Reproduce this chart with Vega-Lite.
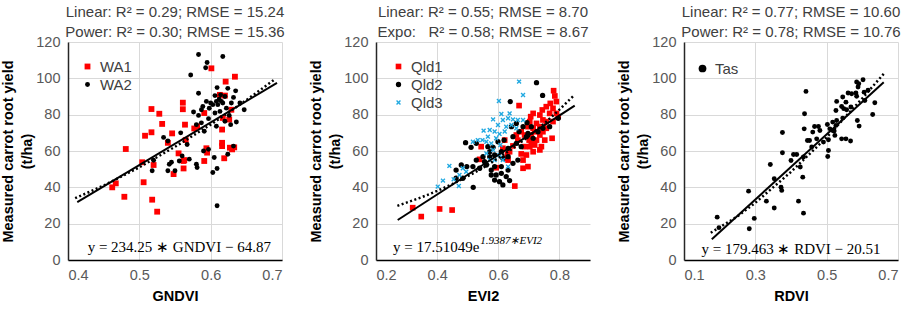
{
  "$schema": "https://vega.github.io/schema/vega-lite/v6.json",
  "background": "white",
  "padding": {"left": 0, "top": 5, "right": 5, "bottom": 5},
  "bounds": "flush",
  "spacing": 94,
  "datasets": {
    "p1": [
      {"x":0.601,"y":105.5,"s":"WA1"},{"x":0.621,"y":98.2,"s":"WA1"},{"x":0.634,"y":100.9,"s":"WA1"},{"x":0.613,"y":90.9,"s":"WA1"},{"x":0.620,"y":90.5,"s":"WA1"},
      {"x":0.561,"y":86.6,"s":"WA1"},{"x":0.561,"y":83.0,"s":"WA1"},{"x":0.517,"y":83.1,"s":"WA1"},{"x":0.528,"y":80.5,"s":"WA1"},{"x":0.532,"y":74.9,"s":"WA1"},
      {"x":0.591,"y":80.9,"s":"WA1"},{"x":0.564,"y":74.5,"s":"WA1"},{"x":0.581,"y":73.6,"s":"WA1"},{"x":0.577,"y":72.4,"s":"WA1"},{"x":0.508,"y":68.4,"s":"WA1"},
      {"x":0.517,"y":70.3,"s":"WA1"},{"x":0.546,"y":69.7,"s":"WA1"},{"x":0.540,"y":64.5,"s":"WA1"},{"x":0.565,"y":66.0,"s":"WA1"},{"x":0.629,"y":82.7,"s":"WA1"},
      {"x":0.626,"y":77.3,"s":"WA1"},{"x":0.617,"y":78.2,"s":"WA1"},{"x":0.616,"y":71.8,"s":"WA1"},{"x":0.616,"y":64.5,"s":"WA1"},{"x":0.616,"y":62.7,"s":"WA1"},
      {"x":0.627,"y":61.8,"s":"WA1"},{"x":0.630,"y":60.9,"s":"WA1"},{"x":0.619,"y":56.0,"s":"WA1"},{"x":0.594,"y":61.5,"s":"WA1"},{"x":0.595,"y":59.1,"s":"WA1"},
      {"x":0.591,"y":54.5,"s":"WA1"},{"x":0.562,"y":54.5,"s":"WA1"},{"x":0.562,"y":50.4,"s":"WA1"},{"x":0.555,"y":58.7,"s":"WA1"},{"x":0.548,"y":47.3,"s":"WA1"},
      {"x":0.504,"y":53.8,"s":"WA1"},{"x":0.520,"y":52.3,"s":"WA1"},{"x":0.506,"y":42.8,"s":"WA1"},{"x":0.518,"y":33.2,"s":"WA1"},{"x":0.481,"y":61.1,"s":"WA1"},
      {"x":0.462,"y":40.0,"s":"WA1"},{"x":0.467,"y":42.2,"s":"WA1"},{"x":0.479,"y":34.8,"s":"WA1"},{"x":0.525,"y":26.6,"s":"WA1"},{"x":0.633,"y":62.0,"s":"WA1"},
      {"x":0.563,"y":55.0,"s":"WA1"},
      {"x":0.583,"y":113.1,"s":"WA2"},{"x":0.617,"y":112.0,"s":"WA2"},{"x":0.595,"y":108.7,"s":"WA2"},{"x":0.593,"y":105.8,"s":"WA2"},{"x":0.572,"y":101.8,"s":"WA2"},
      {"x":0.609,"y":94.9,"s":"WA2"},{"x":0.624,"y":94.5,"s":"WA2"},{"x":0.635,"y":93.1,"s":"WA2"},{"x":0.583,"y":91.8,"s":"WA2"},{"x":0.606,"y":90.5,"s":"WA2"},
      {"x":0.614,"y":90.9,"s":"WA2"},{"x":0.620,"y":90.0,"s":"WA2"},{"x":0.600,"y":86.4,"s":"WA2"},{"x":0.608,"y":87.3,"s":"WA2"},{"x":0.615,"y":87.3,"s":"WA2"},
      {"x":0.594,"y":87.3,"s":"WA2"},{"x":0.603,"y":85.5,"s":"WA2"},{"x":0.610,"y":85.5,"s":"WA2"},{"x":0.617,"y":86.4,"s":"WA2"},{"x":0.629,"y":86.4,"s":"WA2"},
      {"x":0.641,"y":86.4,"s":"WA2"},{"x":0.589,"y":84.5,"s":"WA2"},{"x":0.587,"y":82.7,"s":"WA2"},{"x":0.622,"y":83.6,"s":"WA2"},{"x":0.647,"y":82.7,"s":"WA2"},
      {"x":0.576,"y":81.5,"s":"WA2"},{"x":0.583,"y":79.6,"s":"WA2"},{"x":0.606,"y":80.9,"s":"WA2"},{"x":0.613,"y":81.8,"s":"WA2"},{"x":0.626,"y":79.6,"s":"WA2"},
      {"x":0.597,"y":77.8,"s":"WA2"},{"x":0.587,"y":75.5,"s":"WA2"},{"x":0.620,"y":76.4,"s":"WA2"},{"x":0.628,"y":74.5,"s":"WA2"},{"x":0.608,"y":73.6,"s":"WA2"},
      {"x":0.580,"y":74.5,"s":"WA2"},{"x":0.591,"y":70.9,"s":"WA2"},{"x":0.558,"y":70.0,"s":"WA2"},{"x":0.540,"y":65.5,"s":"WA2"},{"x":0.534,"y":67.5,"s":"WA2"},
      {"x":0.567,"y":63.6,"s":"WA2"},{"x":0.590,"y":60.0,"s":"WA2"},{"x":0.597,"y":60.9,"s":"WA2"},{"x":0.605,"y":56.4,"s":"WA2"},{"x":0.632,"y":62.7,"s":"WA2"},
      {"x":0.624,"y":58.2,"s":"WA2"},{"x":0.560,"y":57.3,"s":"WA2"},{"x":0.570,"y":55.5,"s":"WA2"},{"x":0.556,"y":54.5,"s":"WA2"},{"x":0.520,"y":54.9,"s":"WA2"},
      {"x":0.580,"y":52.7,"s":"WA2"},{"x":0.542,"y":52.7,"s":"WA2"},{"x":0.581,"y":50.9,"s":"WA2"},{"x":0.518,"y":49.1,"s":"WA2"},{"x":0.540,"y":49.1,"s":"WA2"},
      {"x":0.550,"y":49.1,"s":"WA2"},{"x":0.603,"y":48.2,"s":"WA2"},{"x":0.609,"y":50.4,"s":"WA2"},{"x":0.609,"y":29.9,"s":"WA2"},{"x":0.545,"y":53.8,"s":"WA2"},
      {"x":0.612,"y":88.5,"s":"WA2"},{"x":0.598,"y":83.5,"s":"WA2"},{"x":0.632,"y":89.5,"s":"WA2"},{"x":0.636,"y":76.0,"s":"WA2"}
    ],
    "p2": [
      {"x":0.320,"y":28.8,"s":"Qld1"},{"x":0.348,"y":23.9,"s":"Qld1"},{"x":0.408,"y":28.1,"s":"Qld1"},{"x":0.449,"y":27.5,"s":"Qld1"},{"x":0.654,"y":40.7,"s":"Qld1"},
      {"x":0.668,"y":85.0,"s":"Qld1"},{"x":0.593,"y":50.8,"s":"Qld1"},{"x":0.539,"y":55.4,"s":"Qld1"},{"x":0.544,"y":62.4,"s":"Qld1"},{"x":0.621,"y":66.0,"s":"Qld1"},
      {"x":0.632,"y":55.0,"s":"Qld1"},{"x":0.637,"y":59.6,"s":"Qld1"},{"x":0.681,"y":50.5,"s":"Qld1"},{"x":0.681,"y":55.0,"s":"Qld1"},{"x":0.675,"y":58.4,"s":"Qld1"},
      {"x":0.697,"y":51.4,"s":"Qld1"},{"x":0.686,"y":62.4,"s":"Qld1"},{"x":0.703,"y":62.4,"s":"Qld1"},{"x":0.719,"y":63.3,"s":"Qld1"},{"x":0.736,"y":60.6,"s":"Qld1"},
      {"x":0.714,"y":59.6,"s":"Qld1"},{"x":0.725,"y":66.0,"s":"Qld1"},{"x":0.701,"y":66.0,"s":"Qld1"},{"x":0.708,"y":68.8,"s":"Qld1"},{"x":0.736,"y":68.8,"s":"Qld1"},
      {"x":0.746,"y":70.6,"s":"Qld1"},{"x":0.757,"y":72.5,"s":"Qld1"},{"x":0.714,"y":72.5,"s":"Qld1"},{"x":0.697,"y":73.4,"s":"Qld1"},{"x":0.725,"y":75.2,"s":"Qld1"},
      {"x":0.706,"y":78.9,"s":"Qld1"},{"x":0.714,"y":80.7,"s":"Qld1"},{"x":0.736,"y":79.8,"s":"Qld1"},{"x":0.744,"y":82.6,"s":"Qld1"},{"x":0.757,"y":84.4,"s":"Qld1"},
      {"x":0.770,"y":86.2,"s":"Qld1"},{"x":0.790,"y":87.2,"s":"Qld1"},{"x":0.785,"y":90.3,"s":"Qld1"},{"x":0.781,"y":93.2,"s":"Qld1"},{"x":0.768,"y":80.7,"s":"Qld1"},
      {"x":0.779,"y":83.5,"s":"Qld1"},{"x":0.790,"y":80.7,"s":"Qld1"},{"x":0.779,"y":76.2,"s":"Qld1"},{"x":0.776,"y":67.0,"s":"Qld1"},{"x":0.752,"y":66.0,"s":"Qld1"},
      {"x":0.796,"y":78.9,"s":"Qld1"},{"x":0.736,"y":73.4,"s":"Qld1"},{"x":0.703,"y":76.2,"s":"Qld1"},{"x":0.719,"y":70.6,"s":"Qld1"},{"x":0.692,"y":57.8,"s":"Qld1"},
      {"x":0.664,"y":66.0,"s":"Qld1"},{"x":0.648,"y":62.8,"s":"Qld1"},{"x":0.659,"y":68.8,"s":"Qld1"},{"x":0.686,"y":68.8,"s":"Qld1"},{"x":0.675,"y":70.6,"s":"Qld1"},
      {"x":0.746,"y":77.1,"s":"Qld1"},{"x":0.757,"y":76.2,"s":"Qld1"},{"x":0.708,"y":64.2,"s":"Qld1"},{"x":0.741,"y":62.4,"s":"Qld1"},{"x":0.626,"y":56.0,"s":"Qld1"},
      {"x":0.615,"y":61.5,"s":"Qld1"},{"x":0.630,"y":58.2,"s":"Qld1"},
      {"x":0.725,"y":97.6,"s":"Qld2"},{"x":0.639,"y":87.2,"s":"Qld2"},{"x":0.745,"y":90.6,"s":"Qld2"},{"x":0.493,"y":64.6,"s":"Qld2"},{"x":0.511,"y":62.0,"s":"Qld2"},
      {"x":0.528,"y":64.2,"s":"Qld2"},{"x":0.566,"y":62.4,"s":"Qld2"},{"x":0.583,"y":62.0,"s":"Qld2"},{"x":0.599,"y":65.1,"s":"Qld2"},{"x":0.619,"y":66.0,"s":"Qld2"},
      {"x":0.648,"y":67.9,"s":"Qld2"},{"x":0.668,"y":70.7,"s":"Qld2"},{"x":0.681,"y":73.4,"s":"Qld2"},{"x":0.694,"y":75.6,"s":"Qld2"},{"x":0.659,"y":64.2,"s":"Qld2"},
      {"x":0.632,"y":61.5,"s":"Qld2"},{"x":0.610,"y":59.6,"s":"Qld2"},{"x":0.588,"y":57.8,"s":"Qld2"},{"x":0.572,"y":59.6,"s":"Qld2"},{"x":0.550,"y":56.9,"s":"Qld2"},
      {"x":0.528,"y":55.0,"s":"Qld2"},{"x":0.517,"y":51.4,"s":"Qld2"},{"x":0.539,"y":50.5,"s":"Qld2"},{"x":0.561,"y":52.3,"s":"Qld2"},{"x":0.577,"y":49.5,"s":"Qld2"},
      {"x":0.593,"y":46.8,"s":"Qld2"},{"x":0.610,"y":47.7,"s":"Qld2"},{"x":0.626,"y":45.9,"s":"Qld2"},{"x":0.588,"y":44.0,"s":"Qld2"},{"x":0.604,"y":43.1,"s":"Qld2"},
      {"x":0.632,"y":49.5,"s":"Qld2"},{"x":0.648,"y":53.2,"s":"Qld2"},{"x":0.518,"y":40.0,"s":"Qld2"},{"x":0.484,"y":45.0,"s":"Qld2"},{"x":0.462,"y":45.0,"s":"Qld2"},
      {"x":0.462,"y":49.5,"s":"Qld2"},{"x":0.497,"y":51.4,"s":"Qld2"},{"x":0.697,"y":69.7,"s":"Qld2"},{"x":0.714,"y":67.0,"s":"Qld2"},{"x":0.730,"y":70.6,"s":"Qld2"},
      {"x":0.746,"y":72.5,"s":"Qld2"},{"x":0.768,"y":73.4,"s":"Qld2"},{"x":0.796,"y":78.0,"s":"Qld2"},{"x":0.643,"y":73.4,"s":"Qld2"},{"x":0.659,"y":75.2,"s":"Qld2"},
      {"x":0.675,"y":62.4,"s":"Qld2"},{"x":0.692,"y":67.9,"s":"Qld2"},{"x":0.708,"y":73.4,"s":"Qld2"},{"x":0.615,"y":56.0,"s":"Qld2"},{"x":0.632,"y":56.9,"s":"Qld2"},
      {"x":0.572,"y":56.9,"s":"Qld2"},{"x":0.555,"y":54.1,"s":"Qld2"},{"x":0.588,"y":51.4,"s":"Qld2"},{"x":0.610,"y":51.4,"s":"Qld2"},{"x":0.637,"y":43.7,"s":"Qld2"},
      {"x":0.615,"y":41.3,"s":"Qld2"},{"x":0.664,"y":55.0,"s":"Qld2"},{"x":0.577,"y":46.8,"s":"Qld2"},{"x":0.479,"y":52.3,"s":"Qld2"},
      {"x":0.668,"y":98.2,"s":"Qld3"},{"x":0.681,"y":90.8,"s":"Qld3"},{"x":0.602,"y":87.5,"s":"Qld3"},{"x":0.610,"y":80.4,"s":"Qld3"},{"x":0.583,"y":77.4,"s":"Qld3"},
      {"x":0.552,"y":71.2,"s":"Qld3"},{"x":0.572,"y":71.6,"s":"Qld3"},{"x":0.588,"y":70.7,"s":"Qld3"},{"x":0.599,"y":74.3,"s":"Qld3"},{"x":0.615,"y":77.1,"s":"Qld3"},
      {"x":0.632,"y":78.0,"s":"Qld3"},{"x":0.648,"y":77.4,"s":"Qld3"},{"x":0.664,"y":77.1,"s":"Qld3"},{"x":0.643,"y":74.3,"s":"Qld3"},{"x":0.626,"y":73.4,"s":"Qld3"},
      {"x":0.659,"y":72.5,"s":"Qld3"},{"x":0.621,"y":70.7,"s":"Qld3"},{"x":0.604,"y":69.4,"s":"Qld3"},{"x":0.517,"y":65.1,"s":"Qld3"},{"x":0.533,"y":66.0,"s":"Qld3"},
      {"x":0.548,"y":66.0,"s":"Qld3"},{"x":0.561,"y":65.1,"s":"Qld3"},{"x":0.577,"y":64.2,"s":"Qld3"},{"x":0.593,"y":67.0,"s":"Qld3"},{"x":0.607,"y":63.3,"s":"Qld3"},
      {"x":0.583,"y":60.6,"s":"Qld3"},{"x":0.561,"y":58.7,"s":"Qld3"},{"x":0.588,"y":55.0,"s":"Qld3"},{"x":0.604,"y":57.8,"s":"Qld3"},{"x":0.615,"y":55.0,"s":"Qld3"},
      {"x":0.632,"y":51.4,"s":"Qld3"},{"x":0.572,"y":55.0,"s":"Qld3"},{"x":0.440,"y":51.8,"s":"Qld3"},{"x":0.484,"y":50.5,"s":"Qld3"},{"x":0.495,"y":48.6,"s":"Qld3"},
      {"x":0.473,"y":46.8,"s":"Qld3"},{"x":0.419,"y":43.7,"s":"Qld3"},{"x":0.454,"y":44.4,"s":"Qld3"},{"x":0.402,"y":40.4,"s":"Qld3"},{"x":0.471,"y":40.7,"s":"Qld3"},
      {"x":0.681,"y":77.1,"s":"Qld3"},{"x":0.637,"y":80.7,"s":"Qld3"},{"x":0.566,"y":67.9,"s":"Qld3"}
    ],
    "p3": [
      {"x":0.193,"y":23.6,"s":"Tas"},{"x":0.198,"y":17.8,"s":"Tas"},{"x":0.281,"y":37.9,"s":"Tas"},{"x":0.283,"y":17.2,"s":"Tas"},{"x":0.297,"y":22.9,"s":"Tas"},
      {"x":0.331,"y":32.4,"s":"Tas"},{"x":0.353,"y":28.6,"s":"Tas"},{"x":0.342,"y":52.6,"s":"Tas"},{"x":0.353,"y":44.7,"s":"Tas"},{"x":0.372,"y":40.1,"s":"Tas"},
      {"x":0.374,"y":38.3,"s":"Tas"},{"x":0.376,"y":59.0,"s":"Tas"},{"x":0.376,"y":70.2,"s":"Tas"},{"x":0.421,"y":32.4,"s":"Tas"},{"x":0.435,"y":25.8,"s":"Tas"},
      {"x":0.433,"y":45.6,"s":"Tas"},{"x":0.426,"y":51.2,"s":"Tas"},{"x":0.400,"y":54.8,"s":"Tas"},{"x":0.407,"y":58.1,"s":"Tas"},{"x":0.416,"y":58.1,"s":"Tas"},
      {"x":0.435,"y":56.7,"s":"Tas"},{"x":0.437,"y":72.2,"s":"Tas"},{"x":0.438,"y":80.5,"s":"Tas"},{"x":0.442,"y":92.8,"s":"Tas"},{"x":0.446,"y":65.8,"s":"Tas"},
      {"x":0.452,"y":65.8,"s":"Tas"},{"x":0.458,"y":62.2,"s":"Tas"},{"x":0.466,"y":73.5,"s":"Tas"},{"x":0.477,"y":73.5,"s":"Tas"},{"x":0.481,"y":71.3,"s":"Tas"},
      {"x":0.472,"y":66.7,"s":"Tas"},{"x":0.503,"y":57.0,"s":"Tas"},{"x":0.505,"y":60.3,"s":"Tas"},{"x":0.505,"y":66.2,"s":"Tas"},{"x":0.502,"y":74.6,"s":"Tas"},
      {"x":0.509,"y":72.2,"s":"Tas"},{"x":0.517,"y":75.9,"s":"Tas"},{"x":0.523,"y":68.6,"s":"Tas"},{"x":0.521,"y":71.0,"s":"Tas"},{"x":0.526,"y":74.1,"s":"Tas"},
      {"x":0.528,"y":76.8,"s":"Tas"},{"x":0.526,"y":82.3,"s":"Tas"},{"x":0.528,"y":87.3,"s":"Tas"},{"x":0.542,"y":66.7,"s":"Tas"},{"x":0.554,"y":66.7,"s":"Tas"},
      {"x":0.567,"y":65.5,"s":"Tas"},{"x":0.545,"y":78.1,"s":"Tas"},{"x":0.548,"y":83.3,"s":"Tas"},{"x":0.554,"y":86.9,"s":"Tas"},{"x":0.545,"y":89.7,"s":"Tas"},
      {"x":0.560,"y":91.9,"s":"Tas"},{"x":0.570,"y":91.5,"s":"Tas"},{"x":0.582,"y":91.9,"s":"Tas"},{"x":0.584,"y":90.1,"s":"Tas"},{"x":0.586,"y":76.8,"s":"Tas"},
      {"x":0.591,"y":73.7,"s":"Tas"},{"x":0.584,"y":98.0,"s":"Tas"},{"x":0.588,"y":95.2,"s":"Tas"},{"x":0.590,"y":97.0,"s":"Tas"},{"x":0.602,"y":99.2,"s":"Tas"},
      {"x":0.607,"y":87.8,"s":"Tas"},{"x":0.605,"y":92.4,"s":"Tas"},{"x":0.616,"y":93.4,"s":"Tas"},{"x":0.635,"y":86.6,"s":"Tas"},{"x":0.629,"y":80.1,"s":"Tas"},
      {"x":0.568,"y":84.2,"s":"Tas"},{"x":0.491,"y":64.9,"s":"Tas"},{"x":0.461,"y":70.4,"s":"Tas"},{"x":0.542,"y":84.5,"s":"Tas"},{"x":0.556,"y":82.7,"s":"Tas"}
    ],
    "f1": [
      {"x":0.413,"y":31.9,"fit":"Linear"},{"x":0.693,"y":97.5,"fit":"Linear"},
      {"x":0.41,"y":34.0,"fit":"Power"},{"x":0.45,"y":41.0,"fit":"Power"},{"x":0.50,"y":51.0,"fit":"Power"},{"x":0.55,"y":62.3,"fit":"Power"},
      {"x":0.60,"y":74.5,"fit":"Power"},{"x":0.65,"y":88.0,"fit":"Power"},{"x":0.69,"y":99.5,"fit":"Power"}
    ],
    "f2": [
      {"x":0.271,"y":22.0,"fit":"Linear"},{"x":0.85,"y":85.0,"fit":"Linear"},
      {"x":0.27,"y":29.8,"fit":"Expo"},{"x":0.35,"y":34.6,"fit":"Expo"},{"x":0.40,"y":38.0,"fit":"Expo"},{"x":0.45,"y":41.8,"fit":"Expo"},
      {"x":0.50,"y":46.1,"fit":"Expo"},{"x":0.55,"y":50.7,"fit":"Expo"},{"x":0.60,"y":56.1,"fit":"Expo"},{"x":0.65,"y":61.8,"fit":"Expo"},
      {"x":0.70,"y":68.1,"fit":"Expo"},{"x":0.75,"y":75.0,"fit":"Expo"},{"x":0.80,"y":82.8,"fit":"Expo"},{"x":0.85,"y":91.0,"fit":"Expo"}
    ],
    "f3": [
      {"x":0.178,"y":11.4,"fit":"Linear"},{"x":0.66,"y":97.9,"fit":"Linear"},
      {"x":0.175,"y":15.0,"fit":"Power"},{"x":0.25,"y":24.0,"fit":"Power"},{"x":0.30,"y":31.5,"fit":"Power"},{"x":0.40,"y":48.5,"fit":"Power"},
      {"x":0.50,"y":67.5,"fit":"Power"},{"x":0.60,"y":89.0,"fit":"Power"},{"x":0.66,"y":102.5,"fit":"Power"}
    ]
  },
  "resolve": {
    "scale": {"color": "independent", "shape": "independent", "size": "independent"},
    "legend": {"color": "independent", "shape": "independent"}
  },
  "hconcat": [
    {
      "width": 214, "height": 218,
      "title": {"text": ["Linear: R² = 0.29; RMSE = 15.24", "Power: R² = 0.30; RMSE = 15.36"]},
      "layer": [
        {
          "data": {"name": "p1"},
          "mark": {"type": "point", "filled": true, "opacity": 1},
          "encoding": {
            "x": {"field": "x", "type": "quantitative", "scale": {"domain": [0.4, 0.7], "nice": false, "zero": false},
                  "axis": {"title": "GNDVI", "values": [0.4, 0.5, 0.6, 0.7], "tickCount": 4, "format": ".1f"}},
            "y": {"field": "y", "type": "quantitative", "scale": {"domain": [0, 120], "nice": false},
                  "axis": {"title": ["Measured carrot root yield", "(t/ha)"], "values": [0, 20, 40, 60, 80, 100, 120], "tickCount": 7}},
            "color": {"field": "s", "type": "nominal", "scale": {"domain": ["WA1", "WA2"], "range": ["#ff0000", "#000000"]},
                      "legend": {"orient": "none", "legendX": 12, "legendY": 17, "title": null}},
            "shape": {"field": "s", "type": "nominal", "scale": {"domain": ["WA1", "WA2"], "range": ["square", "circle"]},
                      "legend": {"orient": "none", "legendX": 12, "legendY": 17, "title": null}},
            "size": {"field": "s", "type": "nominal", "scale": {"domain": ["WA1", "WA2"], "range": [34, 24]}, "legend": null}
          }
        },
        {
          "data": {"name": "f1"},
          "transform": [{"filter": "datum.fit == 'Power'"}],
          "mark": {"type": "line", "color": "#000000", "strokeWidth": 2.5, "strokeDash": [2, 2.5]},
          "encoding": {"x": {"field": "x", "type": "quantitative"}, "y": {"field": "y", "type": "quantitative"}}
        },
        {
          "data": {"name": "f1"},
          "transform": [{"filter": "datum.fit == 'Linear'"}],
          "mark": {"type": "line", "color": "#000000", "strokeWidth": 2},
          "encoding": {"x": {"field": "x", "type": "quantitative"}, "y": {"field": "y", "type": "quantitative"}}
        },
        {
          "data": {"values": [{}]},
          "mark": {"type": "text", "font": "Liberation Serif", "fontSize": 15, "color": "#000000", "align": "center", "baseline": "middle"},
          "encoding": {"x": {"datum": 0.556}, "y": {"datum": 7}, "text": {"value": "y = 234.25 ∗ GNDVI − 64.87"}}
        }
      ]
    },
    {
      "width": 214, "height": 218,
      "title": {"text": ["Linear: R² = 0.55; RMSE = 8.70", "Expo:\u00a0\u00a0\u00a0R² = 0.58; RMSE = 8.67"]},
      "layer": [
        {
          "data": {"name": "p2"},
          "mark": {"type": "point", "filled": true, "opacity": 1},
          "encoding": {
            "x": {"field": "x", "type": "quantitative", "scale": {"domain": [0.2, 0.9], "nice": false, "zero": false},
                  "axis": {"title": "EVI2", "values": [0.2, 0.4, 0.6, 0.8], "tickCount": 4, "format": ".1f"}},
            "y": {"field": "y", "type": "quantitative", "scale": {"domain": [0, 120], "nice": false},
                  "axis": {"title": ["Measured carrot root yield", "(t/ha)"], "values": [0, 20, 40, 60, 80, 100, 120], "tickCount": 7}},
            "color": {"field": "s", "type": "nominal", "scale": {"domain": ["Qld1", "Qld2", "Qld3"], "range": ["#ff0000", "#000000", "#21a9e1"]},
                      "legend": {"orient": "none", "legendX": 15, "legendY": 17, "title": null}},
            "shape": {"field": "s", "type": "nominal", "scale": {"domain": ["Qld1", "Qld2", "Qld3"], "range": ["square", "circle", "M-1,-0.6L-0.6,-1L0,-0.4L0.6,-1L1,-0.6L0.4,0L1,0.6L0.6,1L0,0.4L-0.6,1L-1,0.6L-0.4,0Z"]},
                      "legend": {"orient": "none", "legendX": 15, "legendY": 17, "title": null}},
            "size": {"field": "s", "type": "nominal", "scale": {"domain": ["Qld1", "Qld2", "Qld3"], "range": [32, 24, 38]}, "legend": null}
          }
        },
        {
          "data": {"name": "f2"},
          "transform": [{"filter": "datum.fit == 'Expo'"}],
          "mark": {"type": "line", "color": "#000000", "strokeWidth": 2.5, "strokeDash": [2, 2.5]},
          "encoding": {"x": {"field": "x", "type": "quantitative"}, "y": {"field": "y", "type": "quantitative"}}
        },
        {
          "data": {"name": "f2"},
          "transform": [{"filter": "datum.fit == 'Linear'"}],
          "mark": {"type": "line", "color": "#000000", "strokeWidth": 2},
          "encoding": {"x": {"field": "x", "type": "quantitative"}, "y": {"field": "y", "type": "quantitative"}}
        },
        {
          "data": {"values": [{}]},
          "mark": {"type": "text", "font": "Liberation Serif", "fontSize": 15, "color": "#000000", "align": "right", "baseline": "middle"},
          "encoding": {"x": {"datum": 0.538}, "y": {"datum": 7}, "text": {"value": "y = 17.51049e"}}
        },
        {
          "data": {"values": [{}]},
          "mark": {"type": "text", "font": "Liberation Serif", "fontSize": 11, "fontStyle": "italic", "color": "#000000", "align": "left", "baseline": "middle"},
          "encoding": {"x": {"datum": 0.541}, "y": {"datum": 10.5}, "text": {"value": "1.9387∗EVI2"}}
        }
      ]
    },
    {
      "width": 214, "height": 218,
      "title": {"text": ["Linear: R² = 0.77; RMSE = 10.60", "Power: R² = 0.78; RMSE = 10.76"]},
      "layer": [
        {
          "data": {"name": "p3"},
          "mark": {"type": "point", "filled": true, "opacity": 1, "size": 24},
          "encoding": {
            "x": {"field": "x", "type": "quantitative", "scale": {"domain": [0.1, 0.7], "nice": false, "zero": false},
                  "axis": {"title": "RDVI", "values": [0.1, 0.3, 0.5, 0.7], "tickCount": 4, "format": ".1f"}},
            "y": {"field": "y", "type": "quantitative", "scale": {"domain": [0, 120], "nice": false},
                  "axis": {"title": ["Measured carrot root yield", "(t/ha)"], "values": [0, 20, 40, 60, 80, 100, 120], "tickCount": 7}},
            "color": {"field": "s", "type": "nominal", "scale": {"domain": ["Tas"], "range": ["#000000"]},
                      "legend": {"orient": "none", "legendX": 11, "legendY": 19, "title": null}},
            "shape": {"field": "s", "type": "nominal", "scale": {"domain": ["Tas"], "range": ["circle"]},
                      "legend": {"orient": "none", "legendX": 11, "legendY": 19, "title": null}}
          }
        },
        {
          "data": {"name": "f3"},
          "transform": [{"filter": "datum.fit == 'Power'"}],
          "mark": {"type": "line", "color": "#000000", "strokeWidth": 2.5, "strokeDash": [2, 2.5]},
          "encoding": {"x": {"field": "x", "type": "quantitative"}, "y": {"field": "y", "type": "quantitative"}}
        },
        {
          "data": {"name": "f3"},
          "transform": [{"filter": "datum.fit == 'Linear'"}],
          "mark": {"type": "line", "color": "#000000", "strokeWidth": 2},
          "encoding": {"x": {"field": "x", "type": "quantitative"}, "y": {"field": "y", "type": "quantitative"}}
        },
        {
          "data": {"values": [{}]},
          "mark": {"type": "text", "font": "Liberation Serif", "fontSize": 15, "color": "#000000", "align": "center", "baseline": "middle"},
          "encoding": {"x": {"datum": 0.40}, "y": {"datum": 6}, "text": {"value": "y = 179.463 ∗ RDVI − 20.51"}}
        }
      ]
    }
  ],
  "config": {
    "view": {"stroke": null},
    "font": "Liberation Sans",
    "axis": {
      "domainColor": "#262626", "domainWidth": 1.5, "ticks": false,
      "gridColor": "#d9d9d9", "gridWidth": 1,
      "labelFont": "Liberation Sans", "labelFontSize": 14.5, "labelColor": "#595959", "labelOverlap": false,
      "titleFont": "Liberation Sans", "titleFontSize": 14.5, "titleFontWeight": "bold", "titleColor": "#000000",
      "labelPadding": 8
    },
    "axisX": {"titlePadding": 8, "domainColor": "#000000"},
    "axisY": {"titlePadding": 1, "titleLineHeight": 19},
    "legend": {
      "labelFont": "Liberation Sans", "labelFontSize": 15, "labelColor": "#404040",
      "symbolSize": 60, "rowPadding": 2, "labelOffset": 5, "padding": 0
    },
    "title": {
      "font": "Liberation Sans", "fontSize": 15, "fontWeight": "normal", "color": "#404040",
      "lineHeight": 20, "offset": -6, "frame": "group", "anchor": "middle"
    }
  }
}
